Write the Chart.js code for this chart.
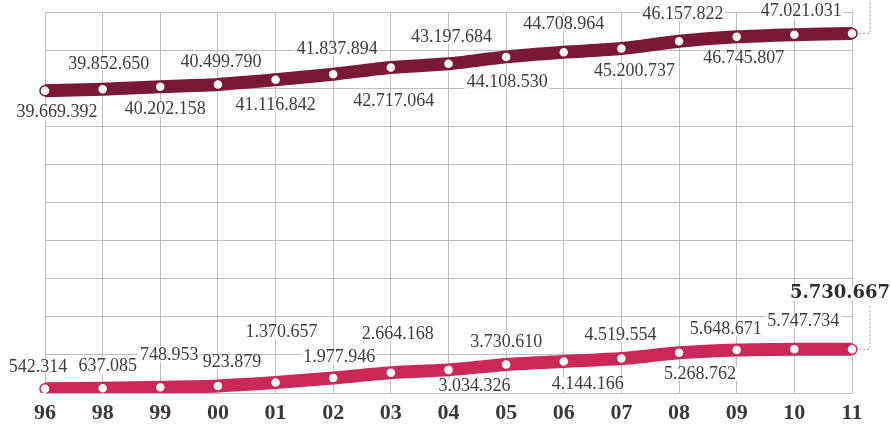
<!DOCTYPE html>
<html>
<head>
<meta charset="utf-8">
<script src="https://cdn.jsdelivr.net/npm/chart.js@4/dist/chart.umd.min.js"></script>
<style>
  html, body { margin: 0; padding: 0; background: #fff; }
  #wrap { width: 891px; height: 425px; }
</style>
</head>
<body>
<div id="wrap"><canvas id="chart"></canvas></div>
<script>
// years on the x axis
const years = ['96', '98', '99', '00', '01', '02', '03', '04', '05', '06', '07', '08', '09', '10', '11'];

// upper line (the last value has no printed label, estimated from its position)
const totalSeries = [39669392, 39852650, 40202158, 40499790, 41116842, 41837894, 42717064,
    43197684, 44108530, 44708964, 45200737, 46157822, 46745807, 47021031, 47190000];

// lower line
const lowerSeries = [542314, 637085, 748953, 923879, 1370657, 1977946, 2664168,
    3034326, 3730610, 4144166, 4519554, 5268762, 5648671, 5747734, 5730667];

const yMax = 50000000;
const yStep = 5000000;

// where each value label sits relative to its point [dx, dy], null = no label
const topLabelPos = [[12, 22], [6, -25], [5, 23], [3, -22], [0, 26], [4, -25], [3, 34], [3, -27],
    [1, 25], [0, -28], [13, 23], [4, -27], [7, 21], [7, -23], null];
const lowLabelPos = [[-7, -22], [5, -22], [9, -32], [14, -24], [6, -50], [6, -21], [7, -38], [26, 16],
    [0, -22], [24, 23], [-1, -23], [21, 21], [-11, -21], [9, -28], [-12, -56]];

function fmt(v) {
    return String(v).replace(/\B(?=(\d{3})+(?!\d))/g, '.');
}

const valueLabels = {
    id: 'valueLabels',
    afterDatasetsDraw(chart) {
        const ctx = chart.ctx;
        ctx.save();

        // dotted leaders on the right for the last points
        const pTop = chart.getDatasetMeta(0).data[14];
        const pLow = chart.getDatasetMeta(1).data[14];
        ctx.strokeStyle = '#999';
        ctx.lineWidth = 1;
        ctx.setLineDash([2, 2]);
        ctx.beginPath();
        ctx.moveTo(pTop.x + 7, pTop.y);
        ctx.lineTo(870, pTop.y);
        ctx.lineTo(870, 0);
        ctx.moveTo(pLow.x + 7, pLow.y);
        ctx.lineTo(870, pLow.y);
        ctx.lineTo(870, 305);
        ctx.stroke();
        ctx.setLineDash([]);

        ctx.textAlign = 'center';
        ctx.textBaseline = 'middle';
        [[0, topLabelPos, totalSeries], [1, lowLabelPos, lowerSeries]].forEach(function (set) {
            const pts = chart.getDatasetMeta(set[0]).data;
            for (let i = 0; i < pts.length; i++) {
                const pos = set[1][i];
                if (!pos) continue;
                const bold = (set[0] === 1 && i === 14);
                ctx.font = bold ? 'bold 18px "DejaVu Serif"' : '18px "Liberation Serif"';
                const txt = fmt(set[2][i]);
                const x = pts[i].x + pos[0];
                const y = pts[i].y + pos[1];
                const w = ctx.measureText(txt).width;
                ctx.fillStyle = '#fff';
                ctx.fillRect(x - w / 2 - 2, y - 7, w + 4, 14);
                ctx.fillStyle = bold ? '#2e2e2e' : '#3c3c3c';
                ctx.fillText(txt, x, y);
            }
        });
        ctx.restore();
    }
};

const ctx = document.getElementById('chart').getContext('2d');
const myChart = new Chart(ctx, {
    type: 'line',
    data: {
        labels: years,
        datasets: [{
            label: 'total',
            data: totalSeries,
            borderColor: 'rgb(122, 24, 54)',
            borderWidth: 13,
            tension: 0.25,
            pointRadius: 5,
            pointBackgroundColor: '#fff',
            pointBorderColor: 'rgb(122, 24, 54)',
            pointBorderWidth: 1.5
        }, {
            label: 'lower',
            data: lowerSeries,
            borderColor: 'rgb(203, 40, 88)',
            borderWidth: 13,
            tension: 0.25,
            pointRadius: 5,
            pointBackgroundColor: '#fff',
            pointBorderColor: 'rgb(203, 40, 88)',
            pointBorderWidth: 1.5
        }]
    },
    options: {
        responsive: true,
        maintainAspectRatio: false,
        animation: false,
        layout: { padding: { left: 45, right: 39, top: 12, bottom: 0 } },
        plugins: {
            legend: { display: false },
            tooltip: { enabled: false }
        },
        scales: {
            x: {
                offset: false,
                grid: { color: '#bdbdbd', lineWidth: 1, drawTicks: false },
                border: { display: false },
                ticks: {
                    padding: 7,
                    color: '#3a3a3a',
                    font: { family: 'Liberation Serif', size: 22, weight: 'bold' },
                    maxRotation: 0
                },
                afterFit(s) { s.height = 32; }
            },
            y: {
                min: 0,
                max: yMax,
                grid: { color: '#bdbdbd', lineWidth: 1, drawTicks: false },
                border: { display: false },
                ticks: { display: false, stepSize: yStep },
                afterFit(s) { s.width = 0; }
            }
        }
    },
    plugins: [valueLabels]
});
</script>
</body>
</html>
